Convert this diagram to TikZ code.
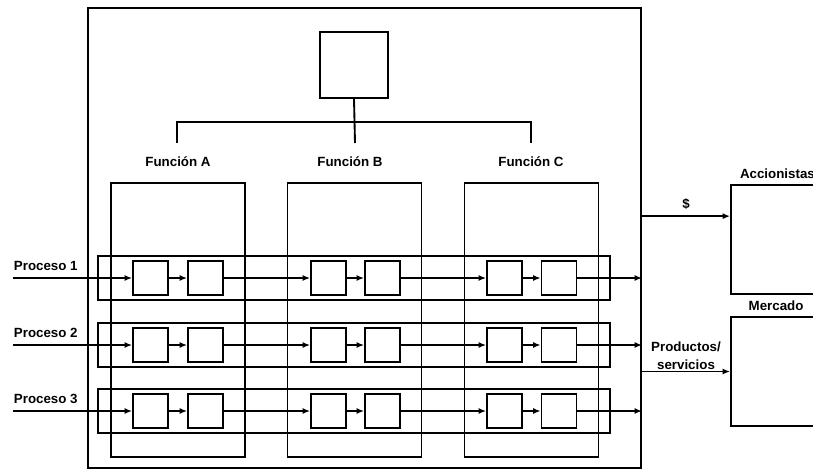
\documentclass[tikz,border=0pt]{standalone}
\usepackage{fontspec}
\setmainfont{Liberation Sans}
\usetikzlibrary{positioning,calc,arrows.meta}

\begin{document}
\begin{tikzpicture}[
  x=0.75pt, y=-0.75pt,
  font=\bfseries\fontsize{10}{13.5}\selectfont,
  line width=1.4pt,
  every node/.style={inner sep=0pt},
  orgbox/.style={
    rectangle, draw=black, line width=1.4pt,
    minimum width=414.75pt, minimum height=345pt,
  },
  topbox/.style={
    rectangle, draw=black, line width=1.4pt,
    minimum width=51pt, minimum height=49.5pt,
  },
  funcbox/.style={
    rectangle, draw=black, line width=1.4pt,
    minimum width=100.5pt, minimum height=205.5pt,
  },
  band/.style={
    rectangle, draw=black, line width=1.4pt,
    minimum width=384pt, minimum height=33.5pt,
  },
  stepbox/.style={
    rectangle, draw=black, line width=1.4pt,
    minimum width=26.25pt, minimum height=25pt,
  },
  extbox/.style={
    rectangle, draw=black, line width=1.4pt,
    minimum width=74.25pt, minimum height=82pt,
  },
  flow/.style={-{Latex[length=5.5pt,width=4.5pt]}},
]
\useasboundingbox (0,0) rectangle (813,475);

% ----- organisation frame and top box -----
\node[orgbox] (org) at (364.5,238) {};
\node[topbox] (top) at (354,65) {};

% ----- bracket down to the three functions -----
\coordinate (kA) at (177,143);
\coordinate (kB) at (355,143);
\coordinate (kC) at (531,143);
\draw (kA) -- ++(0,-21) -| (kC);
\draw (top.south) -- (kB);

\node (fnA) at (178,162) {Función A};
\node (fnB) at (350,162) {Función B};
\node (fnC) at (531,162) {Función C};

% ----- function columns -----
\node[funcbox] (colA) at (178,320) {};
\node[funcbox] (colB) at (354.5,320) {};
\node[funcbox] (colC) at (531.5,320) {};

% ----- process bands with their steps -----
\foreach \r/\y in {1/278,2/345,3/411} {
  \node[band] (band\r) at (354,\y) {};
  \foreach \c/\x in {1/150.5,2/205.5,3/328.5,4/382.5,5/504.5,6/559}
    \node[stepbox] (s\r\c) at (\x,\y) {};
  \coordinate (in\r) at (13,\y);
  \node[anchor=south west] (proc\r) at ($(in\r)+(0,-6)$) {Proceso \r};
  \draw[flow] (in\r) -- (s\r1);
  \draw[flow] (s\r1) -- (s\r2);
  \draw[flow] (s\r2) -- (s\r3);
  \draw[flow] (s\r3) -- (s\r4);
  \draw[flow] (s\r4) -- (s\r5);
  \draw[flow] (s\r5) -- (s\r6);
  \draw[flow] (s\r6.east) -- (s\r6.east -| org.east);
}

% ----- outside: shareholders and market -----
\node[extbox] (acc) at (780.5,239.5) {};
\node[extbox] (mkt) at (780.5,371.5) {};
\node[anchor=south west] (accT) at ($(acc.north west)+(9,-4)$) {Accionistas};
\node[anchor=south] (mktT) at ($(mkt.north west)+(46,-4)$) {Mercado};

\coordinate (accIn) at ($(acc.north west)!0.29!(acc.south west)$);
\draw[flow] (accIn -| org.east) -- node[above=4pt] (dol) {\$} (accIn);
\draw[flow] (mkt.west -| org.east) -- node[above=0.5pt, align=center] (prod)
  {Productos/\\servicios} (mkt.west);

\end{tikzpicture}
\end{document}
